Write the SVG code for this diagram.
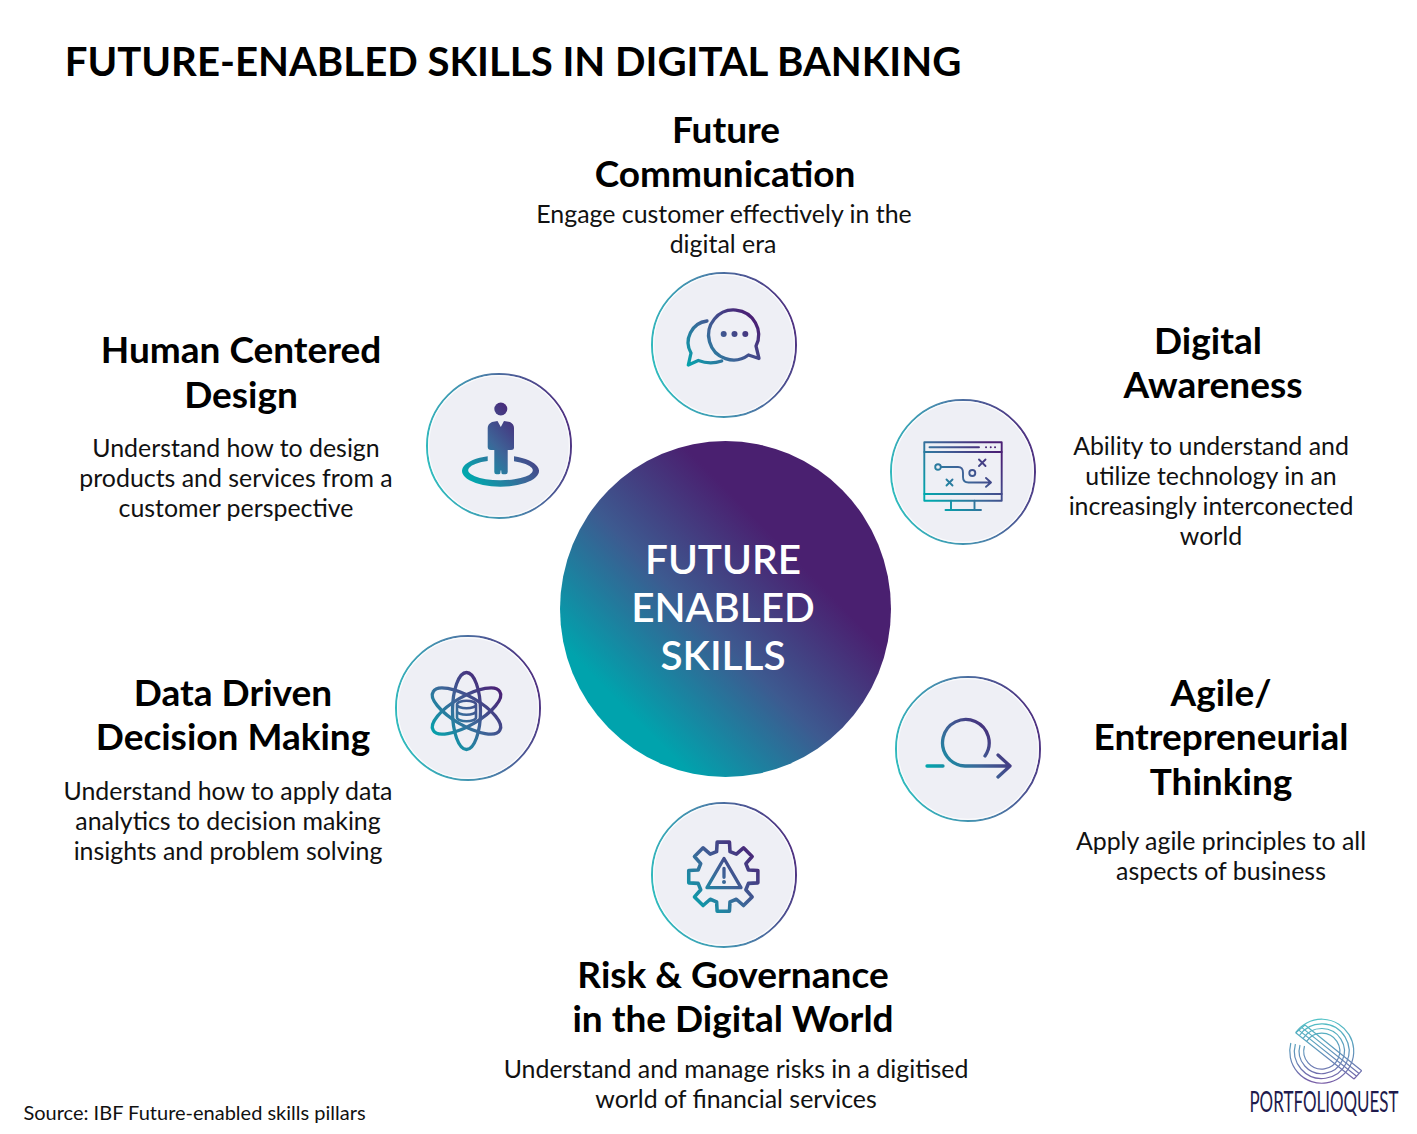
<svg xmlns="http://www.w3.org/2000/svg" width="1417" height="1134" viewBox="0 0 1417 1134">
<style>
text{font-family:"Lato","Liberation Sans",sans-serif;fill:#000;text-anchor:middle}
.t{font-size:37px;font-weight:700}
.b{font-size:24.9px;font-weight:400;fill:#111}
.c{font-size:40.5px;font-weight:600;fill:#fff}
.r{fill:#eeeff5;stroke:url(#ring);stroke-width:2}
.h{fill:none;stroke:#fff;stroke-width:1.2;opacity:.8}
.i{fill:none;stroke:url(#ig);stroke-width:3.3;stroke-linecap:round;stroke-linejoin:round}
.f{fill:url(#ig);stroke:none}
.l{fill:none;stroke:url(#lg);stroke-width:1.2}
</style>
<defs>
<linearGradient id="main" x1="0" y1="1" x2="1" y2="0"><stop offset=".2" stop-color="#00a3ad"/><stop offset=".45" stop-color="#3d5a90"/><stop offset=".68" stop-color="#4a2070"/><stop offset="1" stop-color="#4a2070"/></linearGradient>
<linearGradient id="ring" x1="0" y1=".65" x2="1" y2=".35"><stop offset="0" stop-color="#2fbcbe"/><stop offset=".5" stop-color="#4a85ac"/><stop offset="1" stop-color="#4f2f80"/></linearGradient>
<linearGradient id="ig" gradientUnits="userSpaceOnUse" x1="-32" y1="30" x2="30" y2="-25"><stop offset="0" stop-color="#00a8ad"/><stop offset=".5" stop-color="#3d6598"/><stop offset="1" stop-color="#4a2075"/></linearGradient>
<linearGradient id="lg" gradientUnits="userSpaceOnUse" x1="1322" y1="1018" x2="1322" y2="1085"><stop offset="0" stop-color="#4fc3c6"/><stop offset=".5" stop-color="#5f95bb"/><stop offset="1" stop-color="#7a5aa6"/></linearGradient>
</defs>
<rect width="1417" height="1134" fill="#fff"/>
<text x="513" y="76" style="font-size:40.15px;font-weight:700">FUTURE-ENABLED SKILLS IN DIGITAL BANKING</text>

<g id="center">
<ellipse cx="725.5" cy="609" rx="165.5" ry="168" fill="url(#main)"/>
<text class="c" x="723" y="574">FUTURE</text>
<text class="c" x="723" y="622">ENABLED</text>
<text class="c" x="723" y="670">SKILLS</text>
</g>

<g id="future-communication">
<text class="t" x="726" y="143">Future</text>
<text class="t" x="725" y="187">Communication</text>
<text class="b" x="724" y="223">Engage customer effectively in the</text>
<text class="b" x="723" y="253">digital era</text>
<circle class="r" cx="724" cy="345" r="72"/><circle class="h" cx="724" cy="345" r="70.4"/>
<g transform="translate(724 345)">
<path class="i" d="M24.500 10A25 25 0 1 1 32 1L35 13.500Z"/>
<path class="i" d="M-17-24A21.500 21.500 0 0 0-33 8L-35.700 20L-25.700 15.500Q-14 20-2.300 16"/>
<circle class="f" cx="-.3" cy="-11" r="3"/><circle class="f" cx="10.500" cy="-11" r="3"/><circle class="f" cx="21.300" cy="-11" r="3"/>
</g>
</g>

<g id="digital-awareness">
<text class="t" x="1208" y="354">Digital</text>
<text class="t" x="1213" y="398">Awareness</text>
<text class="b" x="1211" y="455">Ability to understand and</text>
<text class="b" x="1211" y="485">utilize technology in an</text>
<text class="b" x="1211" y="515">increasingly interconected</text>
<text class="b" x="1211" y="545">world</text>
<circle class="r" cx="963" cy="472" r="72"/><circle class="h" cx="963" cy="472" r="70.4"/>
<g transform="translate(963 472)">
<g class="i" style="stroke-width:1.900">
<rect x="-38.700" y="-29.700" width="77.400" height="58.400"/>
<path d="M-38.700-20H38.700M-38.700 22H38.700M-33.500-24.700H16M-12 28.700V38M11.500 28.700V38M-17.500 38H18"/>
<path d="M23-24.700h.1M27.700-24.700h.1M32-24.700h.1"/>
<circle cx="-25" cy="-5" r="2.800"/>
<path d="M-22-5H-5Q0-5 0 1V5Q0 10.500 5.500 10.500H28M23 6L28 10.500L23 14.800"/>
<circle cx="9.300" cy="1" r="3"/>
<path d="M16-12.500L22.500-6M22.500-12.500L16-6M-16.500 7.500L-10.500 13.500M-10.500 7.500L-16.500 13.500"/>
</g>
</g>
</g>

<g id="agile-thinking">
<text class="t" x="1221" y="706">Agile/</text>
<text class="t" x="1221" y="750">Entrepreneurial</text>
<text class="t" x="1221" y="795">Thinking</text>
<text class="b" x="1221" y="850">Apply agile principles to all</text>
<text class="b" x="1221" y="880">aspects of business</text>
<circle class="r" cx="968" cy="749" r="72"/><circle class="h" cx="968" cy="749" r="70.4"/>
<g transform="translate(968 749)">
<path class="i" d="M-41 17H-25M17 7A23.300 23.300 0 1 0-3 17H42M30 6L42 17L30 28"/>
</g>
</g>

<g id="risk-governance">
<text class="t" x="733" y="988">Risk &amp; Governance</text>
<text class="t" x="733" y="1032">in the Digital World</text>
<text class="b" x="736" y="1078">Understand and manage risks in a digitised</text>
<text class="b" x="736" y="1108">world of financial services</text>
<circle class="r" cx="724" cy="875" r="72"/><circle class="h" cx="724" cy="875" r="70.4"/>
<g transform="translate(724 875)">
<g transform="translate(-.7 1.700) scale(1.080)">
<path class="i" d="M32-5.700L32 5.700L23.300 6.200L20.900 12.100L26.700 18.700L18.700 26.700L12.100 20.900L6.200 23.300L5.700 32L-5.700 32L-6.200 23.300L-12.100 20.900L-18.700 26.700L-26.700 18.700L-20.900 12.100L-23.300 6.200L-32 5.700L-32-5.700L-23.300-6.200L-20.900-12.100L-26.700-18.700L-18.700-26.700L-12.100-20.900L-6.200-23.300L-5.700-32L5.700-32L6.200-23.300L12.100-20.900L18.700-26.700L26.700-18.700L20.900-12.100L23.300-6.200Z"/>
</g>
<path class="i" d="M0-16.500L17 12.700H-17ZM0-6.700V2.300"/>
<circle class="f" cx="0" cy="7" r="2"/>
</g>
</g>

<g id="data-driven">
<text class="t" x="233" y="706">Data Driven</text>
<text class="t" x="233" y="750">Decision Making</text>
<text class="b" x="228" y="800">Understand how to apply data</text>
<text class="b" x="228" y="830">analytics to decision making</text>
<text class="b" x="228" y="860">insights and problem solving</text>
<circle class="r" cx="468" cy="708" r="72"/><circle class="h" cx="468" cy="708" r="70.4"/>
<g transform="translate(466.500 711)">
<ellipse class="i" rx="14" ry="38.500"/>
<path class="i" d="M-33.300 19.300A14 38.500 60 1 1 33.300-19.300A14 38.500 60 1 1-33.300 19.300Z"/>
<path class="i" d="M-33.300-19.300A14 38.500 -60 1 1 33.300 19.300A14 38.500 -60 1 1-33.300-19.300Z"/>
<path class="i" style="stroke-width:2.600" d="M-9.500-6.500C-9.500-11.500 9.500-11.500 9.500-6.500V6.500C9.500 11.500-9.500 11.500-9.500 6.500ZM-9.500-6.500C-9.500-1.500 9.500-1.500 9.500-6.500M-9.500 0C-9.500 5 9.500 5 9.500 0"/>
</g>
</g>

<g id="human-centered">
<text class="t" x="241" y="363">Human Centered</text>
<text class="t" x="241" y="408">Design</text>
<text class="b" x="236" y="457">Understand how to design</text>
<text class="b" x="236" y="487">products and services from a</text>
<text class="b" x="236" y="517">customer perspective</text>
<circle class="r" cx="499" cy="446" r="72"/><circle class="h" cx="499" cy="446" r="70.4"/>
<g transform="translate(499 446)">
<circle class="f" cx="1.800" cy="-37" r="6.500"/>
<path class="f" d="M-7-24L-1.500-25L1.800-19L5-25L11-24Q15-22 15-18V1.500Q15 4 12 4H8.700V26Q8.700 28.300 6.500 28.300H3.800Q2.300 28.300 2.300 26V24.500H1.500V26Q1.500 28.300 0 28.300H-2.500Q-4.700 28.300-4.700 26V4H-8Q-11.300 4-11.300 1V-18Q-11.300-22-7-24Z"/>
<path class="f" d="M-11.300 10.200A38.500 15.700 0 1 0 15 10.300L15 15.200A32.300 10 0 1 1-11.300 15.100Z"/>
</g>
</g>

<text id="source" x="194.500" y="1120" style="font-size:20px;fill:#111">Source: IBF Future-enabled skills pillars</text>

<g id="logo">
<path class="l" d="M1290.800 1043A32 32 0 1 0 1295.700 1032.600M1295.400 1044A27.300 27.300 0 1 0 1299.400 1035.500M1300 1045A22.600 22.600 0 1 0 1303 1038.500M1304.500 1046A18 18 0 1 0 1306.600 1041.400"/>
<path class="l" d="M1295.700 1032.700L1354 1079M1298.800 1030.100L1356.600 1076.200M1301.900 1027.600L1359.100 1073.500M1305 1025L1361.700 1070.700M1295.700 1032.700L1305 1025M1354 1079L1361.700 1070.700"/>
<text transform="translate(1324 1112) scale(.585 1)" x="0" y="0" style="font-size:29px;font-weight:400;fill:#1f1b4d">PORTFOLIOQUEST</text>
</g>
</svg>
